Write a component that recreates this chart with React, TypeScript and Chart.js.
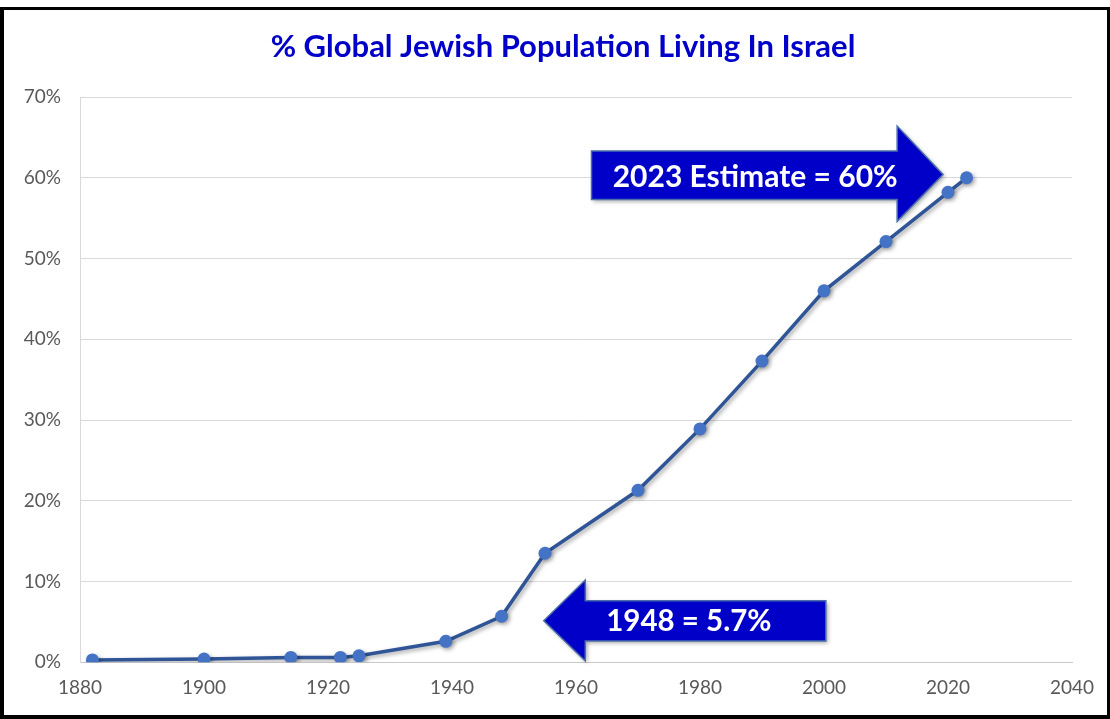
import React, { useEffect, useRef } from "react";
import { Chart, registerables } from "chart.js";

Chart.register(...registerables);

// ---- data ----
const years = [1882, 1900, 1914, 1922, 1925, 1939, 1948, 1955, 1970, 1980, 1990, 2000, 2010, 2020, 2023];
const sharePct = [0.3, 0.4, 0.6, 0.6, 0.8, 2.6, 5.7, 13.5, 21.3, 28.9, 37.3, 46.0, 52.1, 58.2, 60.0];
const xTickValues = [1880, 1900, 1920, 1940, 1960, 1980, 2000, 2020, 2040];
const yTickValues = [0, 10, 20, 30, 40, 50, 60, 70];
const titleText = "% Global Jewish Population Living In Israel";
const calloutLabels = ["2023 Estimate = 60%", "1948 = 5.7%"];

// callout arrows, in data units (year, percent)
const callouts = [
  { label: calloutLabels[0], tailX: 1962.5, neckX: 2011.8, tipX: 2019.2, tipY: 60.4, bodyTop: 63.3, bodyBottom: 57.3, headTop: 66.4, headBottom: 54.6, textX: 1988.9, textY: 60.1, size: 30 },
  { label: calloutLabels[1], tailX: 2000.3, neckX: 1961.5, tipX: 1954.8, tipY: 5.15, bodyTop: 7.63, bodyBottom: 2.64, headTop: 10.2, headBottom: 0.16, textX: 1978.2, textY: 5.0, size: 29.5 },
];

const FONT = "Lato, 'Open Sans', sans-serif";

const decorPlugin = {
  id: "decor",
  beforeDatasetsDraw(chart: any) {
    const ctx = chart.ctx;
    ctx.save();
    ctx.shadowColor = "rgba(0,0,0,0.35)";
    ctx.shadowBlur = 4;
    ctx.shadowOffsetX = 2;
    ctx.shadowOffsetY = 2;
  },
  afterDatasetsDraw(chart: any) {
    chart.ctx.restore();
  },
  afterDraw(chart: any) {
    const ctx = chart.ctx;
    const xs = chart.scales.x;
    const ys = chart.scales.y;
    // title
    ctx.save();
    ctx.fillStyle = "#0000C8";
    ctx.font = `bold 31px ${FONT}`;
    ctx.textAlign = "center";
    ctx.textBaseline = "middle";
    ctx.fillText(titleText, 563, 47);
    ctx.restore();

    for (const c of callouts) {
      const X = (v: number) => xs.getPixelForValue(v);
      const Y = (v: number) => ys.getPixelForValue(v);
      ctx.save();
      ctx.beginPath();
      ctx.moveTo(X(c.tailX), Y(c.bodyTop));
      ctx.lineTo(X(c.neckX), Y(c.bodyTop));
      ctx.lineTo(X(c.neckX), Y(c.headTop));
      ctx.lineTo(X(c.tipX), Y(c.tipY));
      ctx.lineTo(X(c.neckX), Y(c.headBottom));
      ctx.lineTo(X(c.neckX), Y(c.bodyBottom));
      ctx.lineTo(X(c.tailX), Y(c.bodyBottom));
      ctx.closePath();
      ctx.shadowColor = "rgba(0,0,0,0.35)";
      ctx.shadowBlur = 4;
      ctx.shadowOffsetX = 2;
      ctx.shadowOffsetY = 2;
      ctx.fillStyle = "#0000C8";
      ctx.fill();
      ctx.shadowColor = "transparent";
      ctx.lineWidth = 1.5;
      ctx.strokeStyle = "#4A6FA8";
      ctx.stroke();
      ctx.fillStyle = "#FFFFFF";
      ctx.font = `bold ${c.size}px ${FONT}`;
      ctx.textAlign = "center";
      ctx.textBaseline = "middle";
      ctx.fillText(c.label, X(c.textX), Y(c.textY));
      ctx.restore();
    }
  },
};

export default function App() {
  const ref = useRef<HTMLCanvasElement | null>(null);
  useEffect(() => {
    if (!ref.current) return;
    Chart.defaults.font.family = FONT;
    const chart = new Chart(ref.current, {
      type: "line",
      data: {
        datasets: [
          {
            data: years.map((y, i) => ({ x: y, y: sharePct[i] })),
            borderColor: "#2F5597",
            borderWidth: 3.5,
            pointBackgroundColor: "#4472C4",
            pointBorderColor: "#4472C4",
            pointRadius: 6.5,
            pointBorderWidth: 0,
            tension: 0,
          },
        ],
      },
      options: {
        responsive: false,
        animation: false,
        layout: { padding: { left: 0, right: 38, top: 97, bottom: 16.7 } },
        plugins: { legend: { display: false }, title: { display: false }, tooltip: { enabled: false } },
        scales: {
          x: {
            type: "linear",
            min: 1880,
            max: 2040,
            afterFit: (s: any) => { s.height = 40; },
            afterBuildTicks: (s: any) => { s.ticks = xTickValues.map((v) => ({ value: v })); },
            grid: { display: false, drawTicks: false },
            border: { display: true, color: "#C8C8C8", width: 1 },
            ticks: { padding: 14, color: "#595959", font: { size: 19 }, callback: (v: any) => String(v) },
          },
          y: {
            min: 0,
            max: 70,
            afterFit: (s: any) => { s.width = 80; },
            afterBuildTicks: (s: any) => { s.ticks = yTickValues.map((v) => ({ value: v })); },
            grid: { color: "#D9D9D9", drawTicks: false, lineWidth: 1 },
            border: { display: true, color: "#D9D9D9", width: 1 },
            ticks: { padding: 19, color: "#595959", font: { size: 19 }, callback: (v: any) => `${v}%` },
          },
        },
      },
      plugins: [decorPlugin],
    } as any);
    return () => chart.destroy();
  }, []);
  return (
    <div style={{ position: "absolute", left: 0, top: 0, width: 1110, height: 719, background: "#fff" }}>
      <canvas ref={ref} width={1110} height={719} style={{ position: "absolute", left: 0, top: 0 }} />
      <div
        style={{
          position: "absolute",
          left: 0,
          top: 7,
          width: 1110,
          height: 712,
          boxSizing: "border-box",
          borderStyle: "solid",
          borderColor: "#000",
          borderWidth: "3px 3px 4px 4px",
          pointerEvents: "none",
        }}
      />
    </div>
  );
}
